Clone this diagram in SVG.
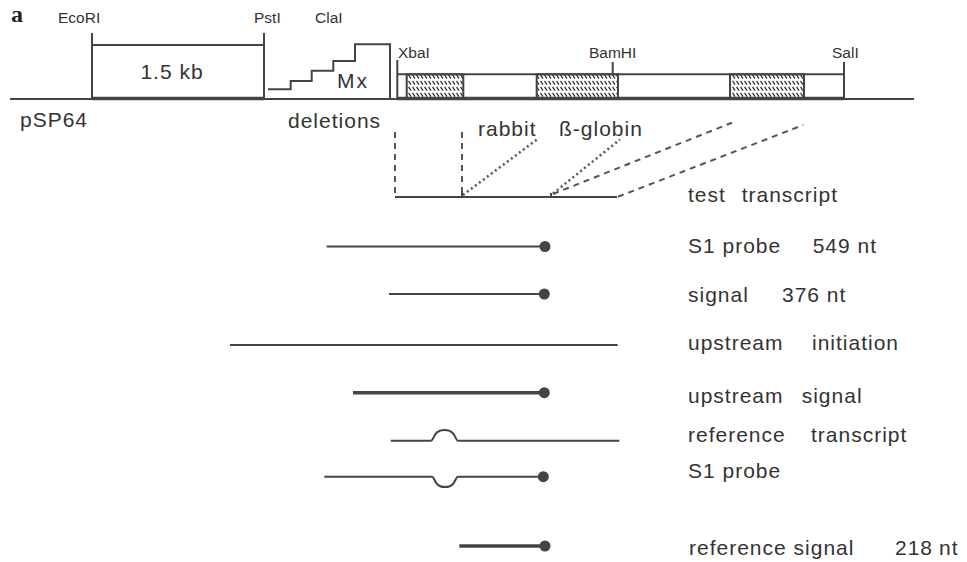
<svg xmlns="http://www.w3.org/2000/svg" width="967" height="562" viewBox="0 0 967 562">
<style>
  .ln{stroke:#444;stroke-width:2;fill:none}
  .thick{stroke:#444;stroke-width:3.5;fill:none}
  .dash{stroke:#555;stroke-width:2;fill:none;stroke-dasharray:6 5}
  .dot{stroke:#555;stroke-width:2.5;fill:none;stroke-dasharray:2 3}
  .end{fill:#444}
  .sm{font-family:"Liberation Sans",Arial,sans-serif;font-size:15.5px;fill:#333}
  .lg{font-family:"Liberation Sans",Arial,sans-serif;font-size:21px;letter-spacing:1px;fill:#333}
</style>
<defs>
  <pattern id="hatch" patternUnits="userSpaceOnUse" width="4" height="6" x="0" y="74">
    <path d="M0.5,0.8 L3,4.6" stroke="#333" stroke-width="1.3"/>
  </pattern>
</defs>
<rect width="967" height="562" fill="#fff"/>
<text x="11" y="22" font-family="Liberation Serif,serif" font-weight="bold" font-size="24" fill="#222">a</text>

<g id="plasmid">
  <line class="ln" x1="10" y1="99" x2="914" y2="99"/>
  <line class="thick" x1="92" y1="98.5" x2="264" y2="98.5"/>
  <line class="thick" x1="397" y1="98.5" x2="844" y2="98.5"/>
  <path class="ln" d="M92,33 V99 M264,33 V99 M92,45 H264"/>
  <path class="ln" d="M268,89.3 H290.7 V81 H311.7 V70.7 H333.3 V61 H355 V44.3 H390 V99"/>
  <path class="ln" d="M397.3,60 V99 M397.3,74.3 H844 M612.7,62 V74.3 M844,62 V99"/>
  <rect x="406.7" y="74.3" width="56.6" height="24.7" fill="url(#hatch)" stroke="#444" stroke-width="2"/>
  <rect x="536.7" y="74.3" width="81.3" height="24.7" fill="url(#hatch)" stroke="#444" stroke-width="2"/>
  <rect x="730" y="74.3" width="74" height="24.7" fill="url(#hatch)" stroke="#444" stroke-width="2"/>
  <text class="sm" x="58" y="23">EcoRI</text>
  <text class="sm" x="254" y="23">PstI</text>
  <text class="sm" x="315" y="23">ClaI</text>
  <text class="sm" x="398" y="58">XbaI</text>
  <text class="sm" x="589" y="58">BamHI</text>
  <text class="sm" x="832" y="58">SalI</text>
  <text class="lg" x="172" y="79" font-size="19" text-anchor="middle">1.5 kb</text>
  <text class="lg" x="337" y="88" style="letter-spacing:2px">Mx</text>
  <text class="lg" x="20" y="127">pSP64</text>
  <text class="lg" x="288" y="128">deletions</text>
  <text class="lg" x="478" y="136">rabbit</text>
  <text class="lg" x="559" y="136">ß-globin</text>
</g>

<g id="connectors">
  <line class="dash" x1="395" y1="132" x2="395" y2="197"/>
  <line class="dash" x1="462" y1="132" x2="462" y2="197"/>
  <line class="dot" x1="463" y1="195" x2="537" y2="139.5"/>
  <line class="dot" x1="553" y1="193.5" x2="620" y2="139.5"/>
  <line class="dash" x1="553" y1="194" x2="732" y2="122.7"/>
  <line class="dash" x1="618" y1="196.7" x2="803.3" y2="125"/>
</g>

<g id="test-transcript">
  <path class="ln" d="M395,197 H617 M462,197 V193 M551,197 V193"/>
  <text class="lg" x="688" y="202">test</text>
  <text class="lg" x="741.7" y="202">transcript</text>
</g>

<g id="s1-probe">
  <line class="ln" x1="326.7" y1="246.5" x2="545" y2="246.5"/>
  <circle class="end" cx="545" cy="246.5" r="5.5"/>
  <text class="lg" x="688" y="253">S1 probe</text>
  <text class="lg" x="812.7" y="253">549 nt</text>
</g>

<g id="signal">
  <line class="ln" x1="389" y1="294" x2="544.3" y2="294" stroke-width="3"/>
  <circle class="end" cx="544.3" cy="294" r="5.5"/>
  <text class="lg" x="688" y="301.5">signal</text>
  <text class="lg" x="782" y="301.5">376 nt</text>
</g>

<g id="upstream-initiation">
  <line class="ln" x1="230" y1="345" x2="617.7" y2="345"/>
  <text class="lg" x="688" y="350">upstream</text>
  <text class="lg" x="812" y="350">initiation</text>
</g>

<g id="upstream-signal">
  <line class="thick" x1="353" y1="392.7" x2="544.3" y2="392.7"/>
  <circle class="end" cx="544.3" cy="392.7" r="5.5"/>
  <text class="lg" x="688" y="403">upstream</text>
  <text class="lg" x="801.7" y="403">signal</text>
</g>

<g id="reference-transcript">
  <path class="ln" d="M390.7,440.7 H431 C434,440.7 433,430 444.5,430 C456,430 455,440.7 458,440.7 H619.3"/>
  <text class="lg" x="688" y="442">reference</text>
  <text class="lg" x="811" y="442">transcript</text>
</g>

<g id="s1-probe-ref">
  <path class="ln" d="M324.3,476.7 H432 C435,476.7 434,487 445,487 C456,487 455,476.7 458,476.7 H543.3"/>
  <circle class="end" cx="543.3" cy="476.7" r="5.5"/>
  <text class="lg" x="688" y="478">S1 probe</text>
</g>

<g id="reference-signal">
  <line class="thick" x1="459.3" y1="546" x2="545" y2="546"/>
  <circle class="end" cx="545" cy="546" r="5.5"/>
  <text class="lg" x="689" y="555">reference signal</text>
  <text class="lg" x="895" y="555">218</text>
  <text class="lg" x="939" y="555">nt</text>
</g>
</svg>
